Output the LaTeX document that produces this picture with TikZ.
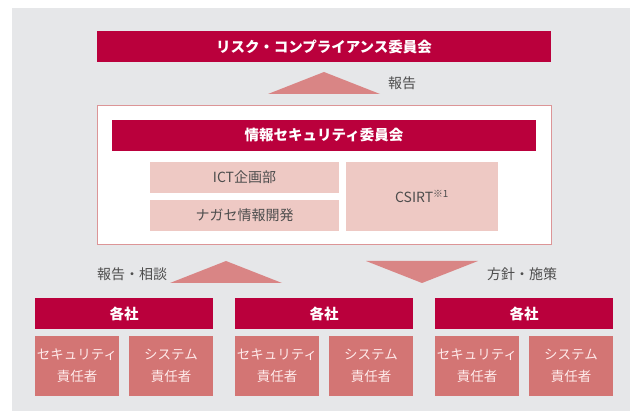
\documentclass[tikz,border=0pt]{standalone}
\usepackage{fontspec}
\setmainfont{Noto Sans CJK JP}
\definecolor{bggray}{HTML}{E6E7E9}
\definecolor{crimson}{HTML}{BA003C}
\definecolor{arrowred}{HTML}{D98585}
\definecolor{unitred}{HTML}{D37574}
\definecolor{lightpink}{HTML}{EEC9C4}
\definecolor{framepink}{HTML}{DC9597}
\definecolor{labelgray}{HTML}{4D4D4D}
\tikzset{
  bar/.style={fill=crimson,text=white,font=\bfseries\fontsize{14.5}{16}\selectfont,
    inner sep=0pt,minimum height=31pt},
  dept/.style={fill=lightpink,text=labelgray,font=\fontsize{14}{16}\selectfont,
    inner sep=0pt,minimum height=31pt},
  unit/.style={fill=unitred,text=white!92!red,font=\fontsize{13.5}{22}\selectfont,
    align=center,inner sep=0pt,minimum width=84pt,minimum height=60pt},
  flow/.style={text=labelgray,font=\fontsize{14}{16}\selectfont},
}
\begin{document}
\begin{tikzpicture}[x=1pt,y=-1pt]
  \useasboundingbox (0,0) rectangle (630,411);
  \fill[bggray] (12,8) rectangle (630,411);

  % 上位委員会
  \node[bar,minimum width=454pt] (risk) at (324,46.5) {リスク・コンプライアンス委員会};
  \fill[arrowred] (268,94) -- (324,72) -- (380,94) -- cycle;
  \node[flow] (report) at (402,83) {報告};

  % 情報セキュリティ委員会の枠
  \node[fill=white,draw=framepink,line width=1pt,minimum width=454pt,minimum height=139pt,inner sep=0pt]
    (frame) at (324,175.5) {};
  \node[bar,minimum width=424pt] (isc) at (324,135.5) {情報セキュリティ委員会};
  \node[dept,minimum width=189pt] (ict) at (244.5,177.5) {ICT企画部};
  \node[dept,minimum width=189pt] (dev) at (244.5,215.5) {ナガセ情報開発};
  \node[dept,minimum width=152pt,minimum height=69pt] (csirt) at (422,196.5) {CSIRT\textsuperscript{※1}};

  % 報告・相談 / 方針・施策
  \fill[arrowred] (170,283) -- (226,261) -- (282,283) -- cycle;
  \node[flow] (consult) at (132,274) {報告・相談};
  \fill[arrowred] (366,261) -- (478,261) -- (422,283) -- cycle;
  \node[flow] (policy) at (522,274) {方針・施策};

  % 各社
  \foreach \i/\cx in {1/124,2/324,3/524}{
    \node[bar,minimum width=178pt] (co\i) at (\cx,313.5) {各社};
    \node[unit] (sec\i) at (\cx-47,366) {セキュリティ\\責任者};
    \node[unit] (sys\i) at (\cx+47,366) {システム\\責任者};
  }
\end{tikzpicture}
\end{document}
